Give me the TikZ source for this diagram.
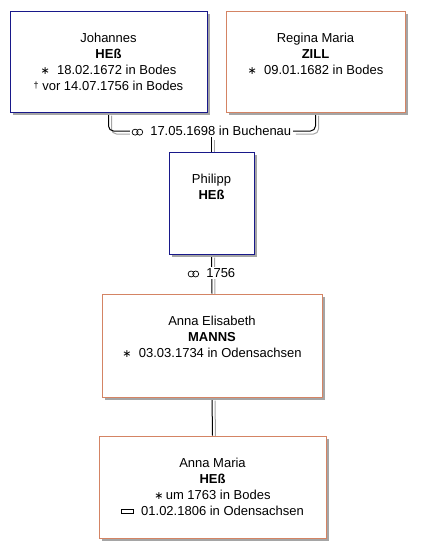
\documentclass[tikz,border=0pt]{standalone}
\usepackage{fontspec}
\setmainfont{Liberation Sans}
\newfontfamily\symb{DejaVu Sans}
\usetikzlibrary{shadows,positioning}
\definecolor{mannrand}{RGB}{24,24,138}
\definecolor{fraurand}{RGB}{212,132,100}
\definecolor{schatten}{RGB}{165,165,165}
% Ringe, Stern, Kreuz und Grab
\newcommand{\ehe}{\tikz[baseline=-0.5pt, line width=0.7pt]{\draw (0,3pt) circle (3pt); \draw (4.6pt,3pt) circle (3pt);}}
\newcommand{\geb}{{\symb\fontsize{11}{11}\selectfont ∗}}
\newcommand{\gest}{{\fontsize{9}{9}\selectfont\raisebox{2pt}{†}}}
\newcommand{\grab}{\tikz[baseline=0pt, line width=0.8pt]{\draw (0,2.2pt) rectangle (12pt,5.4pt);}}
\pgfdeclarelayer{hinten}
\pgfsetlayers{hinten,main}
\tikzset{
  kasten/.style={draw, fill=white, line width=1pt, inner sep=0pt,
    drop shadow={shadow xshift=3pt, shadow yshift=-3pt, fill=schatten, opacity=1}},
  mann/.style={kasten, draw=mannrand},
  frau/.style={kasten, draw=fraurand},
  daten/.style={anchor=north, align=center, inner sep=0pt,
    font=\fontsize{13}{16}\selectfont},
  ehetext/.style={inner sep=1.5pt, fill=white, font=\fontsize{13}{15}\selectfont},
  linie/.style={line width=1pt, rounded corners=5pt,
    preaction={draw=schatten, line width=1pt, transform canvas={shift={(3pt,-3pt)}}}}
}
\begin{document}
\begin{tikzpicture}[x=1pt, y=-1pt]
  \useasboundingbox (0,0) rectangle (424,558);

  % Eltern
  \node[mann, minimum width=197pt, minimum height=101pt] (johannes) at (108.5, 61.5) {};
  \node[frau, minimum width=179pt, minimum height=101pt] (regina) at (315.5, 61.5) {};
  \node[daten] (johannes-t) at ([yshift=-22pt]johannes.north)
    {Johannes\\ \textbf{HEß}\\ \geb\ \ 18.02.1672 in Bodes\\ \gest\ vor 14.07.1756 in Bodes};
  \node[daten] (regina-t) at ([yshift=-22pt]regina.north)
    {Regina Maria\\ \textbf{ZILL}\\ \geb\ \ 09.01.1682 in Bodes};

  % Sohn
  \node[mann, minimum width=85pt, minimum height=102pt] (philipp) at (211.5, 203) {};
  \node[daten] (philipp-t) at ([yshift=-22pt]philipp.north)
    {Philipp\\ \textbf{HEß}};

  % Ehefrau
  \node[frau, minimum width=220pt, minimum height=103pt] (elisabeth) at (212, 345.5) {};
  \node[daten] (elisabeth-t) at ([yshift=-22pt]elisabeth.north)
    {Anna Elisabeth\\ \textbf{MANNS}\\ \geb\ \ 03.03.1734 in Odensachsen};

  % Tochter
  \node[frau, minimum width=227pt, minimum height=102pt] (annamaria) at (212.5, 487) {};
  \node[daten] (annamaria-t) at ([yshift=-22pt]annamaria.north)
    {Anna Maria\\ \textbf{HEß}\\ \geb\,um 1763 in Bodes\\ \grab\ \ 01.02.1806 in Odensachsen};

  % Heiraten
  \node[ehetext] (heirat1) at (211.5, 131) {\ehe\ \ 17.05.1698 in Buchenau};
  \node[ehetext] (heirat2) at (211.5, 273) {\ehe\ \ 1756};

  \begin{pgfonlayer}{hinten}
    \draw[linie] (johannes.south) |- (heirat1.west);
    \draw[linie] (heirat1.east) -| (regina.south);
    \draw[linie] (heirat1.south -| philipp.north) -- (philipp.north);
    \draw[linie] (philipp.south) -- (elisabeth.north);
    \draw[linie] (elisabeth.south) -- (annamaria.north);
  \end{pgfonlayer}
\end{tikzpicture}
\end{document}
